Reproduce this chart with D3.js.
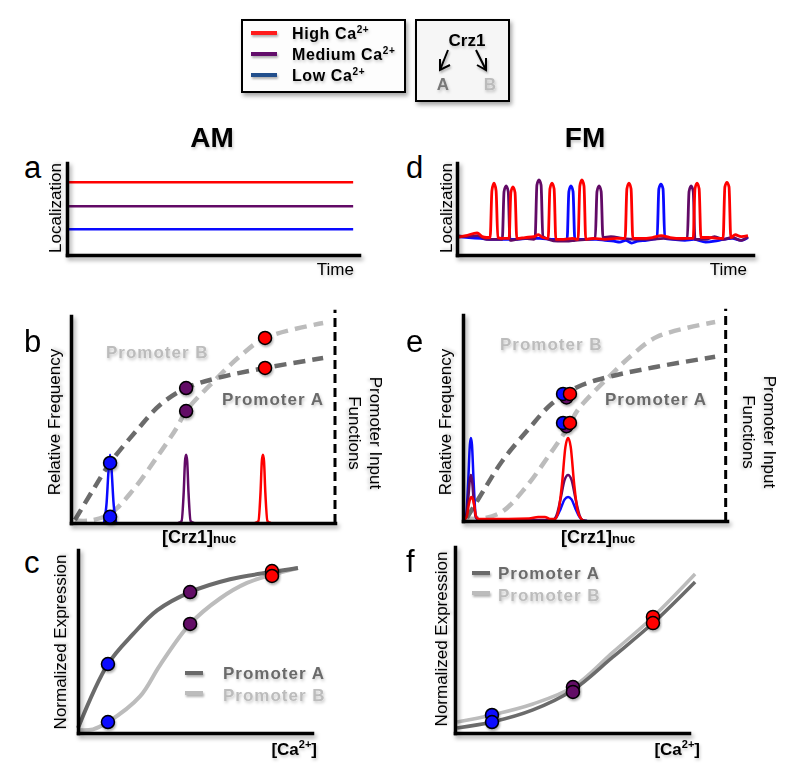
<!DOCTYPE html>
<html><head><meta charset="utf-8">
<script src="https://cdn.jsdelivr.net/npm/d3@7"></script>
<style>
body{margin:0;background:#fff;}
svg{display:block;font-family:"Liberation Sans",Arial,Helvetica,sans-serif;}
</style></head><body>
<svg id="chart" width="800" height="779"></svg>
<script>
// ===================== DATA =====================
const legendLabels = ["High Ca", "Medium Ca", "Low Ca"];
// panel a: AM, constant localization levels (high, medium, low)
const amLevels = [0.79, 0.53, 0.28];
// panel d: FM, localization traces [time, localization]
const fmRed = [[0,0.19],[3,0.21],[6.8,0.24],[8.5,0.2],[10,0.19],
 [11.2,0.19],[11.8,0.7],[12.5,0.78],[13.2,0.7],[13.8,0.19],
 [15,0.18],[17.6,0.18],[18.2,0.68],[18.9,0.74],[19.6,0.68],[20.2,0.18],
 [23,0.19],[26,0.2],[27.5,0.22],[29,0.19],
 [30.8,0.18],[31.4,0.72],[32.1,0.78],[32.8,0.72],[33.4,0.17],
 [36,0.17],[39,0.18],
 [40.9,0.17],[41.5,0.75],[42.2,0.815],[42.9,0.75],[43.5,0.17],
 [46,0.18],[50,0.17],[54,0.18],
 [56.8,0.18],[57.4,0.72],[58.1,0.78],[58.8,0.72],[59.4,0.18],
 [62,0.18],[66,0.19],[69,0.21],[72,0.19],[76,0.18],
 [79.8,0.18],[80.4,0.72],[81.1,0.78],[81.8,0.72],[82.4,0.19],
 [85,0.19],[88,0.18],
 [89.9,0.18],[90.5,0.74],[91.2,0.79],[91.9,0.74],[92.5,0.19],
 [94,0.22],[96,0.2],[98.3,0.21]];
const fmPurple = [[0,0.21],[3,0.2],[7,0.21],[10,0.17],[13,0.17],
 [15.3,0.17],[15.9,0.69],[16.6,0.75],[17.3,0.69],[17.9,0.16],
 [20,0.17],[23,0.18],[26,0.17],
 [26.4,0.19],[27,0.76],[27.7,0.815],[28.4,0.76],[29,0.2],
 [31,0.17],[34,0.15],[37,0.15],[40,0.16],[44,0.17],
 [46.7,0.18],[47.3,0.69],[48,0.75],[48.7,0.69],[49.3,0.19],
 [52,0.2],[56,0.18],[60,0.17],[65,0.17],[70,0.18],[75,0.17],
 [77.8,0.18],[78.4,0.69],[79.1,0.75],[79.8,0.69],[80.4,0.17],
 [84,0.17],[87,0.2],[90,0.17],[93,0.19],[96,0.16],[98.3,0.2]];
const fmBlue = [[0,0.2],[4,0.19],[8,0.18],[12,0.17],[16,0.17],[20,0.17],[24,0.18],[28,0.18],[32,0.17],
 [37.2,0.17],[37.8,0.69],[38.5,0.75],[39.2,0.69],[39.8,0.17],
 [43,0.17],[47,0.17],[50,0.16],[53,0.15],[55,0.14],[57,0.16],[59,0.13],[61,0.15],[64,0.16],[66,0.17],
 [67.6,0.18],[68.2,0.72],[68.9,0.77],[69.6,0.72],[70.2,0.18],
 [73,0.17],[77,0.16],[80,0.17],[84,0.14],[87,0.15],[90,0.17],[93,0.18],[96,0.16],[98.3,0.19]];

// promoter input functions ([Crz1]nuc, activity) used in panels b and e
const pifA = [[0.015,0.015],[0.083,0.159],[0.148,0.29],[0.25,0.449],[0.337,0.57],[0.436,0.652],[0.553,0.70],[0.735,0.749],[0.955,0.797]];
const pifB = [[0.015,0.012],[0.072,0.012],[0.148,0.045],[0.235,0.159],[0.326,0.319],[0.40,0.459],[0.436,0.541],[0.553,0.70],[0.644,0.81],[0.735,0.894],[0.955,0.966]];

// panel b: nuclear Crz1 distributions (AM)
const bPeakBlue = [[0.125,0],[0.135,0.1],[0.142,0.25],[0.148,0.33],[0.154,0.25],[0.161,0.1],[0.171,0]];
const bPeakPurple = [[0.406,0],[0.419,0.01],[0.427,0.15],[0.432,0.3],[0.436,0.33],[0.44,0.3],[0.445,0.15],[0.453,0.01],[0.466,0]];
const bPeakRed = [[0.697,0],[0.71,0.01],[0.718,0.15],[0.723,0.3],[0.727,0.33],[0.731,0.3],[0.736,0.15],[0.744,0.01],[0.757,0]];
const bDotsA = [[0.148,0.29],[0.436,0.652],[0.735,0.749]];
const bDotsB = [[0.148,0.03],[0.436,0.541],[0.735,0.894]];

// panel e: nuclear Crz1 distributions (FM)
const eTraceBlue = [[0,0],[0.012,0.03],[0.02,0.2],[0.026,0.37],[0.03,0.403],[0.034,0.37],[0.04,0.2],[0.048,0.03],[0.06,0.003],[0.2,0.003],[0.34,0.003],[0.355,0.02],[0.37,0.06],[0.385,0.105],[0.398,0.117],[0.411,0.105],[0.426,0.06],[0.441,0.02],[0.455,0.002],[0.47,0]];
const eTracePurple = [[0,0],[0.012,0.02],[0.02,0.11],[0.026,0.2],[0.03,0.223],[0.034,0.2],[0.04,0.11],[0.048,0.02],[0.06,0.005],[0.2,0.005],[0.34,0.005],[0.355,0.03],[0.37,0.11],[0.385,0.2],[0.398,0.223],[0.411,0.2],[0.426,0.11],[0.441,0.03],[0.455,0.003],[0.47,0]];
const eTraceRed = [[0,0],[0.014,0.02],[0.022,0.08],[0.028,0.11],[0.032,0.117],[0.036,0.11],[0.042,0.08],[0.05,0.02],[0.06,0.01],[0.15,0.01],[0.25,0.012],[0.285,0.02],[0.31,0.02],[0.33,0.01],[0.348,0.01],[0.362,0.05],[0.375,0.18],[0.388,0.36],[0.398,0.403],[0.408,0.36],[0.421,0.18],[0.434,0.05],[0.448,0.01],[0.46,0]];
// dots order: purple, blue, red
const eDotsA = [[0.392,0.60],[0.379,0.617],[0.405,0.617]];
const eDotsB = [[0.392,0.46],[0.379,0.476],[0.405,0.476]];

// panel c: AM dose response ([Ca2+], normalized expression)
const cCurveA = [[0,0.027],[0.128,0.377],[0.235,0.54],[0.338,0.67],[0.479,0.77],[0.65,0.84],[0.829,0.88],[0.94,0.902]];
const cCurveB = [[0,0.016],[0.064,0.02],[0.128,0.06],[0.265,0.2],[0.35,0.37],[0.479,0.596],[0.607,0.735],[0.722,0.82],[0.829,0.865],[0.94,0.902]];
const cDotsA = [[0.128,0.377],[0.479,0.77],[0.829,0.885]];
const cDotsB = [[0.128,0.06],[0.479,0.596],[0.829,0.858]];

// panel f: FM dose response
const fCurveA = [[0.009,0.027],[0.158,0.059],[0.333,0.124],[0.504,0.231],[0.675,0.409],[0.846,0.591],[1.026,0.812]];
const fCurveB = [[0.009,0.059],[0.158,0.097],[0.333,0.156],[0.504,0.247],[0.675,0.435],[0.846,0.624],[1.026,0.855]];
const fDotsA = [[0.158,0.059],[0.504,0.221],[0.846,0.591]];
const fDotsB = [[0.158,0.097],[0.504,0.247],[0.846,0.624]];

// ===================== STYLE =====================
const COLORS = ["#ff0000", "#620a66", "#0a0aff"]; // high, medium, low
const LEGEND_COLORS = ["#ff1a1a", "#62106a", "#234f8c"];
const GRAY_A = "#6b6b6b", GRAY_B = "#bcbcbc";

const svg = d3.select("#chart");
const defs = svg.append("defs");
const mkShadow = (id, dx, dy, sd, op, user) => {
  const f = defs.append("filter").attr("id", id);
  if (user) f.attr("filterUnits", "userSpaceOnUse").attr("x", 0).attr("y", 0).attr("width", 800).attr("height", 779);
  else f.attr("x", "-20%").attr("y", "-40%").attr("width", "150%").attr("height", "190%");
  f.append("feDropShadow").attr("dx", dx).attr("dy", dy).attr("stdDeviation", sd)
    .attr("flood-color", "#000").attr("flood-opacity", op);
};
mkShadow("sh", 2, 3, 2, 0.35, true);
mkShadow("shT", 1, 2, 1.5, 0.22, false);
mkShadow("shD", 1, 2, 1.2, 0.3, true);

function text(g, x, y, s, opts = {}) {
  const t = g.append("text").attr("x", x).attr("y", y).text(s)
    .attr("font-size", opts.size || 17)
    .attr("font-weight", opts.bold ? "bold" : "normal")
    .attr("fill", opts.fill || "#000")
    .attr("text-anchor", opts.anchor || "start");
  if (opts.ls) t.attr("letter-spacing", opts.ls);
  if (opts.shadow !== false) t.attr("filter", "url(#shT)");
  return t;
}
function rtext(g, x, y, angle, s, opts = {}) {
  const gg = g.append("g").attr("transform", `translate(${x},${y}) rotate(${angle})`);
  return text(gg, 0, 0, s, Object.assign({anchor: "middle"}, opts));
}
function axes(x, y) {
  const g = svg.append("g").attr("filter", "url(#sh)");
  g.append("g").attr("transform", `translate(0,${y.range()[0]})`)
    .call(d3.axisBottom(x).tickValues([]).tickSizeOuter(0));
  g.append("g").attr("transform", `translate(${x.range()[0]},0)`)
    .call(d3.axisLeft(y).tickValues([]).tickSizeOuter(0));
  g.selectAll(".domain").attr("stroke", "#000").attr("stroke-width", 3.5).attr("stroke-linecap", "square");
  return g;
}
function curve(x, y, data, color, width, dash, curveType) {
  const line = d3.line().x(d => x(d[0])).y(d => y(d[1])).curve(curveType || d3.curveMonotoneX);
  const p = svg.append("path").datum(data).attr("d", line).attr("fill", "none")
    .attr("stroke", color).attr("stroke-width", width).attr("stroke-linejoin", "round");
  if (dash) p.attr("stroke-dasharray", dash);
  return p;
}
const SMOOTH = d3.curveCatmullRom.alpha(0.5);
function dots(x, y, data, colors) {
  svg.append("g").attr("filter", "url(#shD)").selectAll("circle").data(data).join("circle")
    .attr("cx", d => x(d[0])).attr("cy", d => y(d[1])).attr("r", 6.5)
    .attr("fill", (d, i) => colors[i]).attr("stroke", "#000").attr("stroke-width", 1.5);
}
function caLabel(x, y) {
  const t = text(svg, x, y, "[Ca", {bold: true, size: 17, anchor: "end"});
  t.append("tspan").attr("font-size", 11).attr("dy", -7).text("2+");
  t.append("tspan").attr("dy", 7).text("]");
}
function crzLabel(x, y) {
  const t = text(svg, x, y, "[Crz1]", {bold: true, size: 18});
  t.append("tspan").attr("font-size", 13).text("nuc");
}

// ===================== LEGENDS =====================
const lg = svg.append("g");
lg.append("rect").attr("x", 242).attr("y", 20).attr("width", 163).attr("height", 72)
  .attr("fill", "#fdfdfd").attr("stroke", "#000").attr("stroke-width", 2).attr("filter", "url(#sh)");
legendLabels.forEach((lab, i) => {
  const yy = 33 + i * 21;
  lg.append("line").attr("x1", 251).attr("x2", 277).attr("y1", yy).attr("y2", yy)
    .attr("stroke", LEGEND_COLORS[i]).attr("stroke-width", 4).attr("filter", "url(#shD)");
  const t = text(lg, 292, yy + 6, lab, {bold: true, size: 16, ls: 0.6});
  t.append("tspan").attr("font-size", 10).attr("dy", -6).text("2+");
});
const bx = svg.append("g");
bx.append("rect").attr("x", 416).attr("y", 20).attr("width", 93).attr("height", 81)
  .attr("fill", "#f6f6f6").attr("stroke", "#000").attr("stroke-width", 2).attr("filter", "url(#sh)");
text(bx, 467, 46, "Crz1", {bold: true, size: 17, anchor: "middle"});
const arr = bx.append("g").attr("fill", "none").attr("stroke", "#000").attr("stroke-width", 2).attr("filter", "url(#shD)");
arr.append("path").attr("d", "M448,50 L440,70 M440,59 L440,70 L450,65");
arr.append("path").attr("d", "M476,50 L486,70 M486,58 L486,70 L477,65");
text(bx, 443, 90, "A", {bold: true, size: 17, anchor: "middle", fill: "#777"});
text(bx, 490, 90, "B", {bold: true, size: 17, anchor: "middle", fill: "#bbb"});

// ===================== TITLES =====================
text(svg, 212, 147, "AM", {bold: true, size: 28, anchor: "middle"});
text(svg, 585, 147, "FM", {bold: true, size: 28, anchor: "middle"});

// ===================== PANEL a =====================
{
  const x = d3.scaleLinear().domain([0, 100]).range([67, 359]);
  const y = d3.scaleLinear().domain([0, 1]).range([255, 163]);
  amLevels.forEach((v, i) => curve(x, y, [[0, v], [98, v]], COLORS[i], 2.6));
  axes(x, y);
  text(svg, 24, 178, "a", {size: 31, shadow: false});
  rtext(svg, 61, 208, -90, "Localization");
  text(svg, 354, 275, "Time", {anchor: "end"});
}
// ===================== PANEL d =====================
{
  const x = d3.scaleLinear().domain([0, 100]).range([457, 753]);
  const y = d3.scaleLinear().domain([0, 1]).range([255, 163]);
  [fmBlue, fmPurple, fmRed].forEach((s, i) => curve(x, y, s, COLORS[2 - i], 2.8));
  axes(x, y);
  text(svg, 406, 178, "d", {size: 31, shadow: false});
  rtext(svg, 452, 208, -90, "Localization");
  text(svg, 747, 275, "Time", {anchor: "end"});
}
// ===================== PANEL b =====================
{
  const x = d3.scaleLinear().domain([0, 1]).range([71, 335]);
  const y = d3.scaleLinear().domain([0, 1]).range([523, 316]);
  curve(x, y, pifB, GRAY_B, 4.5, "12,7", SMOOTH);
  curve(x, y, pifA, GRAY_A, 4.5, "12,7", SMOOTH);
  [bPeakRed, bPeakPurple, bPeakBlue].forEach((s, i) => curve(x, y, s, COLORS[i], 2.5));
  axes(x, y);
  svg.append("line").attr("x1", x(1)).attr("x2", x(1)).attr("y1", y(0)).attr("y2", y(1.03))
    .attr("stroke", "#000").attr("stroke-width", 3).attr("stroke-dasharray", "9,5");
  dots(x, y, bDotsB, [COLORS[2], COLORS[1], COLORS[0]]);
  dots(x, y, bDotsA, [COLORS[2], COLORS[1], COLORS[0]]);
  text(svg, 24, 352, "b", {size: 31, shadow: false});
  rtext(svg, 60, 422, -90, "Relative Frequency");
  rtext(svg, 370, 433, 90, "Promoter Input");
  rtext(svg, 349, 433, 90, "Functions");
  text(svg, 106, 358, "Promoter B", {bold: true, fill: GRAY_B, ls: 1});
  text(svg, 222, 405, "Promoter A", {bold: true, fill: GRAY_A, ls: 1});
  crzLabel(162, 543);
}
// ===================== PANEL e =====================
{
  const x = d3.scaleLinear().domain([0, 1]).range([463, 727]);
  const y = d3.scaleLinear().domain([0, 1]).range([521, 315]);
  curve(x, y, pifB, GRAY_B, 4.5, "12,7", SMOOTH);
  curve(x, y, pifA, GRAY_A, 4.5, "12,7", SMOOTH);
  [eTraceBlue, eTracePurple, eTraceRed].forEach((s, i) => curve(x, y, s, COLORS[2 - i], 2.5));
  axes(x, y);
  svg.append("line").attr("x1", x(0.995)).attr("x2", x(0.995)).attr("y1", y(0)).attr("y2", y(1.03))
    .attr("stroke", "#000").attr("stroke-width", 3).attr("stroke-dasharray", "9,5");
  dots(x, y, eDotsB, [COLORS[1], COLORS[2], COLORS[0]]);
  dots(x, y, eDotsA, [COLORS[1], COLORS[2], COLORS[0]]);
  text(svg, 406, 352, "e", {size: 31, shadow: false});
  rtext(svg, 451, 422, -90, "Relative Frequency");
  rtext(svg, 764, 432, 90, "Promoter Input");
  rtext(svg, 743, 432, 90, "Functions");
  text(svg, 500, 350, "Promoter B", {bold: true, fill: GRAY_B, ls: 1});
  text(svg, 605, 405, "Promoter A", {bold: true, fill: GRAY_A, ls: 1});
  crzLabel(561, 543);
}
// ===================== PANEL c =====================
{
  const x = d3.scaleLinear().domain([0, 1]).range([78, 312]);
  const y = d3.scaleLinear().domain([0, 1]).range([733, 550]);
  curve(x, y, cCurveB, GRAY_B, 4, null, SMOOTH);
  curve(x, y, cCurveA, GRAY_A, 4, null, SMOOTH);
  axes(x, y);
  dots(x, y, cDotsA, [COLORS[2], COLORS[1], COLORS[0]]);
  dots(x, y, cDotsB, [COLORS[2], COLORS[1], COLORS[0]]);
  text(svg, 24, 573, "c", {size: 31, shadow: false});
  rtext(svg, 66, 642, -90, "Normalized Expression");
  caLabel(317, 755);
  svg.append("line").attr("x1", 185).attr("x2", 203).attr("y1", 673).attr("y2", 673).attr("stroke", GRAY_A).attr("stroke-width", 4).attr("filter", "url(#shD)");
  svg.append("line").attr("x1", 185).attr("x2", 203).attr("y1", 693).attr("y2", 693).attr("stroke", GRAY_B).attr("stroke-width", 4).attr("filter", "url(#shD)");
  text(svg, 223, 679, "Promoter A", {bold: true, fill: GRAY_A, ls: 1});
  text(svg, 223, 701, "Promoter B", {bold: true, fill: GRAY_B, ls: 1});
}
// ===================== PANEL f =====================
{
  const x = d3.scaleLinear().domain([0, 1]).range([455, 689]);
  const y = d3.scaleLinear().domain([0, 1]).range([733, 547]);
  curve(x, y, fCurveB, GRAY_B, 3.5, null, SMOOTH);
  curve(x, y, fCurveA, GRAY_A, 3.5, null, SMOOTH);
  axes(x, y);
  dots(x, y, fDotsB, [COLORS[2], COLORS[1], COLORS[0]]);
  dots(x, y, fDotsA, [COLORS[2], COLORS[1], COLORS[0]]);
  text(svg, 406, 572, "f", {size: 31, shadow: false});
  rtext(svg, 447, 639, -90, "Normalized Expression");
  caLabel(700, 755);
  svg.append("line").attr("x1", 472).attr("x2", 490).attr("y1", 573).attr("y2", 573).attr("stroke", GRAY_A).attr("stroke-width", 4).attr("filter", "url(#shD)");
  svg.append("line").attr("x1", 472).attr("x2", 490).attr("y1", 593).attr("y2", 593).attr("stroke", GRAY_B).attr("stroke-width", 4).attr("filter", "url(#shD)");
  text(svg, 498, 579, "Promoter A", {bold: true, fill: GRAY_A, ls: 1});
  text(svg, 498, 601, "Promoter B", {bold: true, fill: GRAY_B, ls: 1});
}
</script>
</body></html>
